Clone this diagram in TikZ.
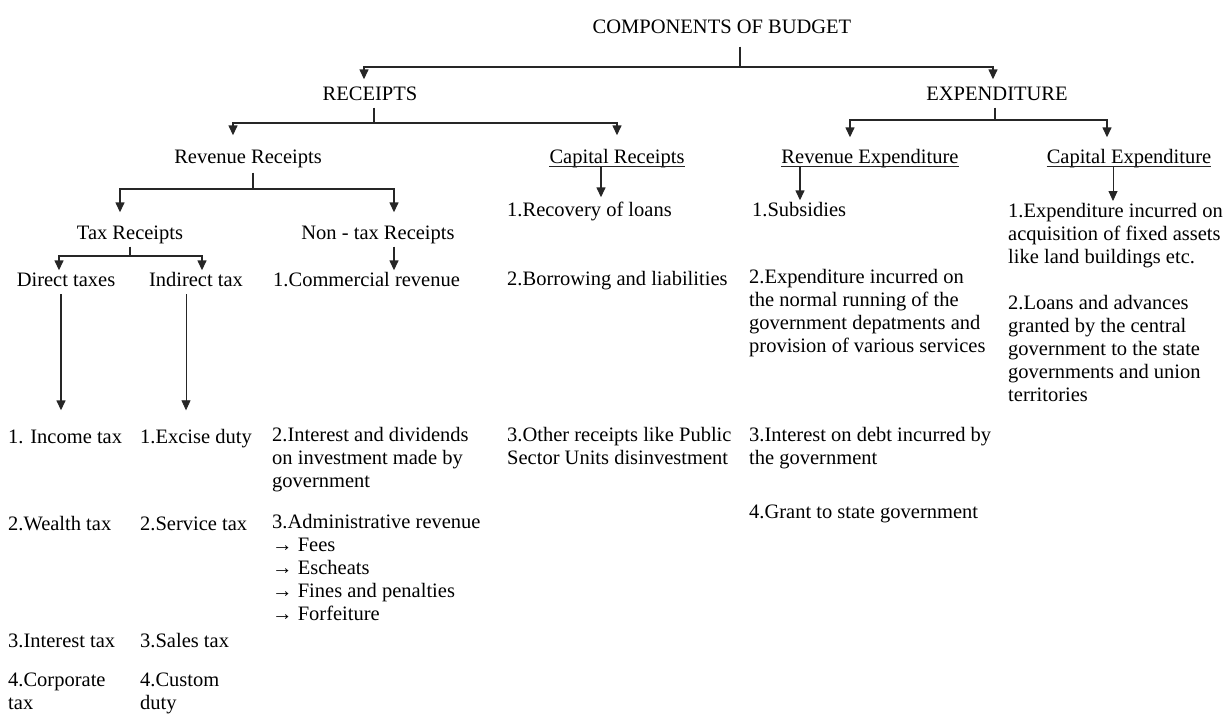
\documentclass[tikz,border=0pt]{standalone}
\usepackage{fontspec}
\setmainfont{Liberation Serif}
\usetikzlibrary{arrows.meta}

\tikzset{
  txt/.style={inner sep=0pt, font=\fontsize{20.5}{23}\selectfont, execute at begin node=\strut},
  item/.style={txt, anchor=west},
  para/.style={txt, anchor=north west, align=left},
  bus/.style={line width=1.4pt, draw=black!85},
  arr/.style={bus, -{Triangle[length=10pt,width=9pt]}},
  thinarr/.style={arr, line width=0.8pt},
}

\begin{document}
\begin{tikzpicture}[x=1pt, y=-1pt]
\useasboundingbox (0,0) rectangle (1227,716);

% top levels
\node[txt] (budget) at (722,29) {COMPONENTS OF BUDGET};
\node[txt] (rec) at (370,96) {RECEIPTS};
\node[txt] (exp) at (997,96) {EXPENDITURE};
\node[txt] (revrec) at (248,159) {Revenue Receipts};
\node[txt] (caprec) at (617,159) {Capital Receipts};
\node[txt] (revexp) at (870,159) {Revenue Expenditure};
\node[txt] (capexp) at (1129,159) {Capital Expenditure};
\node[txt] (taxrec) at (130,235) {Tax Receipts};
\node[txt] (ntaxrec) at (378,235) {Non - tax Receipts};
\node[txt] (direct) at (66,282) {Direct taxes};
\node[txt] (indirect) at (196,282) {Indirect tax};

% underlines
\foreach \n in {caprec,revexp,capexp}
  \draw[bus] ([yshift=-3pt]\n.base west) -- ([yshift=-3pt]\n.base east);

% capital receipts
\node[item] (recovery) at (507,212) {1.Recovery of loans};
\node[item] (borrow) at (507,281) {2.Borrowing and liabilities};
\node[para] (other) at (507,427) {3.Other receipts like Public\\Sector Units disinvestment};

% revenue expenditure
\node[item] (subsidy) at (752,212) {1.Subsidies};
\node[para] (running) at (749,269) {2.Expenditure incurred on\\the normal running of the\\government depatments and\\provision of various services};
\node[para] (debt) at (749,427) {3.Interest on debt incurred by\\the government};
\node[item] (grant) at (749,514) {4.Grant to state government};

% capital expenditure
\node[para] (assets) at (1008,203) {1.Expenditure incurred on\\acquisition of fixed assets\\like land buildings etc.};
\node[para] (loans) at (1008,295) {2.Loans and advances\\granted by the central\\government to the state\\governments and union\\territories};

% non-tax receipts
\node[item] (commerce) at (273,282) {1.Commercial revenue};
\node[para] (divid) at (272,427) {2.Interest and dividends\\on investment made by\\government};
\node[para] (admin) at (272,514) {3.Administrative revenue\\→ Fees\\→ Escheats\\→ Fines and penalties\\→ Forfeiture};

% direct and indirect taxes
\node[item] (income) at (8,439) {1. Income tax};
\node[item] (wealth) at (8,526) {2.Wealth tax};
\node[item] (inttax) at (8,643) {3.Interest tax};
\node[para] (corp) at (8,673) {4.Corporate\\tax};
\node[item] (excise) at (140,439) {1.Excise duty};
\node[item] (service) at (140,526) {2.Service tax};
\node[item] (sales) at (140,643) {3.Sales tax};
\node[para] (custom) at (140,673) {4.Custom\\duty};

% budget branch
\coordinate (b0) at (740,67);
\coordinate (b1) at (364,67);
\coordinate (b2) at (993,67);
\draw[bus, shorten <=6pt] (budget.south -| b0) -- (b0);
\draw[arr, shorten >=5pt] (b0) -- (b1) -- (b1 |- rec.north);
\draw[arr, shorten >=5pt] (b0) -- (b2) -- (b2 |- exp.north);

% receipts branch
\coordinate (r0) at (374,123);
\coordinate (r1) at (233,123);
\coordinate (r2) at (617,123);
\draw[bus] (rec.south -| r0) -- (r0);
\draw[arr, shorten >=12pt] (r0) -- (r1) -- (r1 |- revrec.north);
\draw[arr, shorten >=12pt] (r0) -- (r2) -- (r2 |- caprec.north);

% expenditure branch
\coordinate (e0) at (995,120);
\coordinate (e1) at (850,120);
\coordinate (e2) at (1107,120);
\draw[bus] (exp.south -| e0) -- (e0);
\draw[arr, shorten >=10pt] (e0) -- (e1) -- (e1 |- revexp.north);
\draw[arr, shorten >=10pt] (e0) -- (e2) -- (e2 |- capexp.north);

% revenue receipts branch
\coordinate (v0) at (253,189);
\coordinate (v1) at (120,189);
\coordinate (v2) at (394,189);
\draw[bus, shorten <=2pt] (revrec.south -| v0) -- (v0);
\draw[arr, shorten >=11pt] (v0) -- (v1) -- (v1 |- taxrec.north);
\draw[arr, shorten >=11pt] (v0) -- (v2) -- (v2 |- ntaxrec.north);
\draw[arr] (ntaxrec.south -| v2) -- (commerce.north -| v2);

% tax receipts branch
\coordinate (t0) at (130,256);
\coordinate (t1) at (59,256);
\coordinate (t2) at (202,256);
\draw[bus] (taxrec.south -| t0) -- (t0);
\draw[arr] (t0) -- (t1) -- (t1 |- direct.north);
\draw[arr] (t0) -- (t2) -- (t2 |- indirect.north);

% long arrows to the tax lists
\coordinate (d0) at (61,294);
\coordinate (i0) at (186,294);
\draw[arr, shorten >=17pt] (d0) -- (d0 |- income.north);
\draw[thinarr, shorten >=17pt] (i0) -- (i0 |- excise.north);

% arrows from the underlined heads
\coordinate (c0) at (601,166);
\coordinate (x0) at (800,166);
\coordinate (k0) at (1113,166);
\draw[arr, shorten >=3pt] (c0) -- (c0 |- recovery.north);
\draw[arr] (x0) -- (x0 |- subsidy.north);
\draw[thinarr, shorten >=2pt] (k0) -- (k0 |- assets.north);

\end{tikzpicture}
\end{document}
